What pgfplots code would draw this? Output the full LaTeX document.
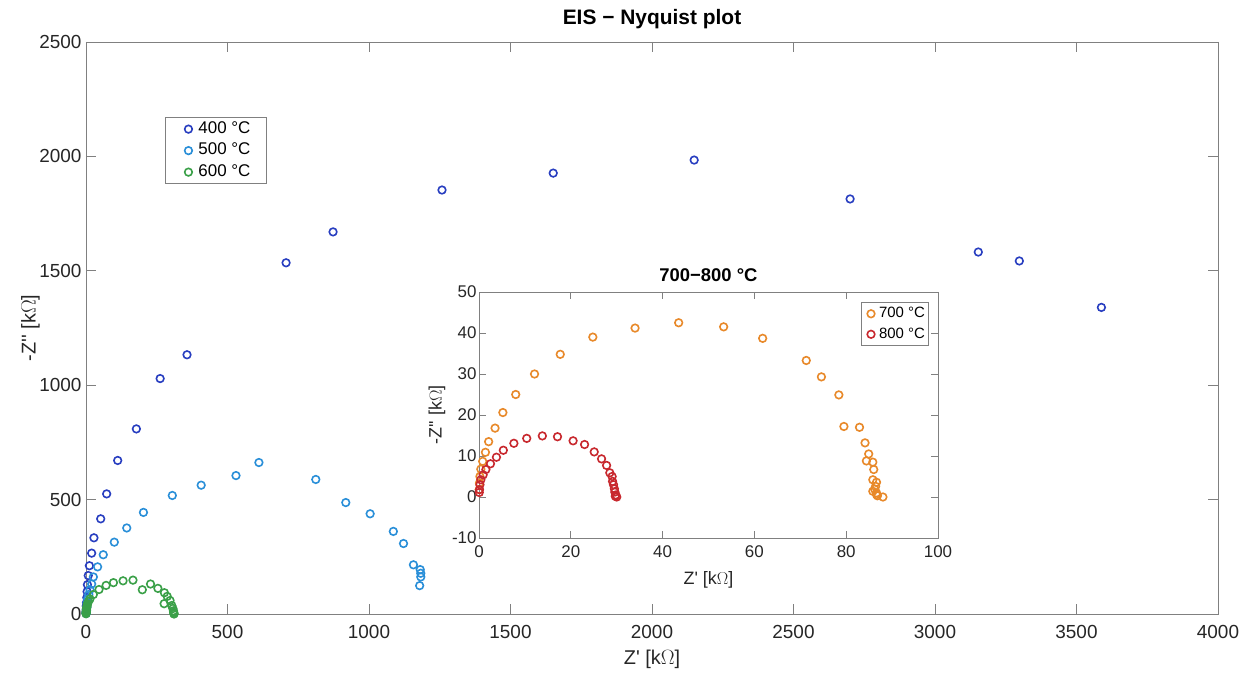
\documentclass[border=0pt]{standalone}
\usepackage{fontspec}
\setmainfont{Liberation Sans}
\usepackage{pgfplots}
\pgfplotsset{compat=1.18}
\definecolor{c400}{RGB}{40,62,192}
\definecolor{c500}{RGB}{42,143,216}
\definecolor{c600}{RGB}{58,160,72}
\definecolor{c700}{RGB}{232,137,42}
\definecolor{c800}{RGB}{200,40,46}
\definecolor{axc}{RGB}{128,128,128}
\definecolor{txc}{RGB}{38,38,38}
\pgfplotsset{
  leg/.style={},
  mstyle/.style={only marks, mark=o, mark size=3.8bp, line width=1.6bp, mark options={solid}, leg},
  mlstyle/.style={
    scale only axis,
    axis line style={axc, line width=0.9bp},
    every tick/.style={axc, line width=0.9bp},
    tick align=inside,
    major tick length=10bp,
    tick label style={font=\fontsize{19}{22}\selectfont, text=txc},
    label style={font=\fontsize{20}{23}\selectfont, text=txc},
    title style={font=\bfseries\fontsize{21}{24}\selectfont, text=black},
    /pgf/number format/assume math mode=true,
    /pgf/number format/1000 sep={},
    scaled ticks=false,
    clip=false,
    legend cell align=left,
  }
}
\begin{document}
\begin{tikzpicture}
\useasboundingbox (-86bp,-59bp) rectangle (1155bp,614bp);
\begin{axis}[mlstyle,
  at={(0,0)}, anchor=south west,
  width=1132bp, height=572bp,
  xmin=0, xmax=4000, ymin=0, ymax=2500,
  xtick={0,500,...,4000}, ytick={0,500,...,2500},
  xticklabel style={yshift=-8bp},
  yticklabel style={xshift=-1bp},
  xlabel={Z\textquotesingle\ [k$\Omega$]},
  ylabel={-Z\textquotesingle\textquotesingle\ [k$\Omega$]},
  xlabel style={at={(axis description cs:0.5,-0.080)}, anchor=center},
  ylabel style={at={(axis description cs:-0.049,0.5)}, anchor=center, rotate=0},
  title={EIS − Nyquist plot},
  title style={at={(axis description cs:0.5,1.030)}, anchor=center},
  legend style={at={(axis description cs:0.0698,0.869)}, anchor=north west,
    font=\fontsize{17}{20}\selectfont, draw=axc, line width=0.9bp,
    inner xsep=14bp, inner ysep=1bp,
    nodes={text height=12bp, text depth=3.5bp, inner xsep=2bp, inner ysep=3bp},
    row sep=0bp, text=black},
  leg/.style={legend image code/.code={\path[draw=none,fill=none] (0bp,0bp) -- (17bp,0bp); \draw[##1] plot[only marks] coordinates {(9bp,0bp)};}},
]
\addplot[mstyle, c400] coordinates {
(0.3,3) (0.5,10) (1,20) (1,35) (2,50) (3,72) (4,98) (5,128) (8,168) (12,211) (20,266) (28,333) (52,416) (73,525) (112,671) (178,809) (262,1029) (357,1133) (707,1535) (873,1670) (1258,1853) (1651,1927) (2149,1984) (2700,1814) (3153,1582) (3298,1543) (3588,1340)
};
\addlegendentry{400 °C}
\addplot[mstyle, c500] coordinates {
(0.3,3) (1,6) (2,15) (3,30) (4,48) (6,66) (10,85) (14,106) (20,131) (26,162) (41,206) (61,259) (100,314) (144,376) (203,444) (305,518) (407,563) (530,605) (611,662) (812,588) (918,487) (1004,438) (1086,361) (1122,308) (1157,215) (1181,194) (1183,178) (1183,162) (1179,124)
};
\addlegendentry{500 °C}
\addplot[mstyle, c600] coordinates {
(0.2,1) (0.3,4) (0.5,8) (1,13) (1.5,18) (2,24) (3,30) (4,37) (5,45) (9,55) (14,66) (26,85) (46,107) (71,125) (97,137) (131,145) (166,148) (199,106) (228,131) (254,112) (277,93) (287,77) (276,45) (297,59) (303,37) (307,24) (309,14) (310,7) (311,2) (311,0)
};
\addlegendentry{600 °C}
\end{axis}
\begin{axis}[mlstyle,
  at={(393bp,76bp)}, anchor=south west,
  width=459bp, height=246bp,
  axis background/.style={fill=white},
  xmin=0, xmax=100, ymin=-10, ymax=50,
  xtick={0,20,...,100}, ytick={-10,0,...,50},
  major tick length=7bp,
  tick label style={font=\fontsize{17}{20}\selectfont, text=txc},
  label style={font=\fontsize{18}{21}\selectfont, text=txc},
  title style={font=\bfseries\fontsize{18.5}{21}\selectfont, text=black},
  xticklabel style={yshift=-4bp},
  yticklabel style={xshift=1bp},
  xlabel={Z\textquotesingle\ [k$\Omega$]},
  ylabel={-Z\textquotesingle\textquotesingle\ [k$\Omega$]},
  xlabel style={at={(axis description cs:0.5,-0.171)}, anchor=center},
  ylabel style={at={(axis description cs:-0.0915,0.5)}, anchor=center, rotate=0},
  title={700−800 °C},
  title style={at={(axis description cs:0.5,1.045)}, anchor=center},
  legend style={at={(axis description cs:0.98,0.959)}, anchor=north east,
    font=\fontsize{15}{18}\selectfont, draw=axc, line width=0.9bp,
    inner xsep=2bp, inner ysep=1bp,
    nodes={text height=11bp, text depth=3.5bp, inner xsep=1.5bp, inner ysep=3bp},
    row sep=0bp, text=black},
  leg/.style={legend image code/.code={\path[draw=none,fill=none] (0bp,0bp) -- (14bp,0bp); \draw[##1] plot[only marks] coordinates {(7.5bp,0bp)};}},
]
\addplot[mstyle, c700] coordinates {
(0.05,1.8) (0.1,3.4) (0.2,5.0) (0.4,6.8) (0.8,8.7) (1.4,10.9) (2.1,13.5) (3.5,16.8) (5.2,20.6) (8.0,25.0) (12.1,30.0) (17.7,34.8) (24.8,39.0) (34.0,41.2) (43.5,42.5) (53.3,41.5) (61.8,38.7) (71.3,33.3) (74.6,29.3) (78.4,24.9) (79.5,17.2) (82.9,17.0) (84.1,13.2) (84.9,10.5) (84.4,8.8) (85.8,8.5) (86.0,6.7) (85.8,4.2) (86.6,3.6) (86.4,2.6) (86.2,1.9) (85.8,1.4) (86.6,1.0) (86.6,0.6) (86.8,0.3) (88.0,0)
};
\addlegendentry{700 °C}
\addplot[mstyle, c800] coordinates {
(0.05,1.1) (0.1,1.8) (0.2,3.0) (0.4,4.2) (0.9,5.4) (1.5,6.7) (2.5,8.1) (3.8,9.7) (5.3,11.4) (7.6,13.1) (10.4,14.3) (13.8,14.9) (17.1,14.7) (20.5,13.7) (23.0,12.8) (25.1,11.0) (26.7,9.3) (27.8,7.7) (28.5,5.9) (29.0,5.0) (29.1,3.8) (29.3,3.0) (29.5,2.0) (29.6,1.2) (29.8,0.5) (29.7,0.2) (30.0,0)
};
\addlegendentry{800 °C}
\end{axis}
\end{tikzpicture}
\end{document}
